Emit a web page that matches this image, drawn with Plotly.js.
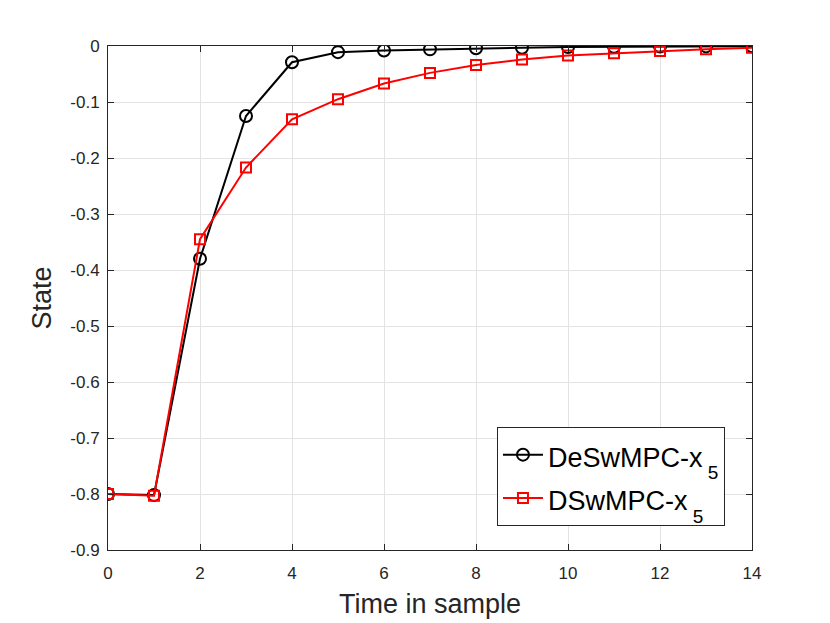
<!DOCTYPE html>
<html>
<head>
<meta charset="utf-8">
<script src="https://cdn.plot.ly/plotly-3.0.1.min.js"></script>
<style>html,body{margin:0;padding:0;background:#fff;}#chart{width:830px;height:623px;}</style>
</head>
<body>
<div id="chart"></div>
<script>
var timeSteps = [0,1,2,3,4,5,6,7,8,9,10,11,12,13,14];
var deswmpcX5 = [-0.800,-0.802,-0.380,-0.125,-0.029,-0.011,-0.008,-0.006,-0.004,-0.003,-0.002,-0.0015,-0.001,-0.0007,-0.0005];
var dswmpcX5  = [-0.800,-0.803,-0.345,-0.217,-0.131,-0.095,-0.067,-0.048,-0.034,-0.024,-0.017,-0.013,-0.009,-0.006,-0.003];
var seriesBase = ['DeSwMPC-x', 'DSwMPC-x'];
var seriesSub = ['5', '5'];
var xTickVals = [0,2,4,6,8,10,12,14];
var yTickVals = [0,-0.1,-0.2,-0.3,-0.4,-0.5,-0.6,-0.7,-0.8,-0.9];
var yTickText = ['0','-0.1','-0.2','-0.3','-0.4','-0.5','-0.6','-0.7','-0.8','-0.9'];

function legendLabel(base, sub) {
  return '<span style="font-size:27px">' + base + '</span>' +
         '<span style="font-size:60px"><sub><span style="font-size:19px"> ' + sub + '</span></sub></span>';
}

var font = 'Liberation Sans, Arial, Helvetica, sans-serif';
var traces = [
  {x: timeSteps, y: deswmpcX5, name: legendLabel(seriesBase[0], seriesSub[0]), type: 'scatter', mode: 'lines+markers',
   line: {color: '#000000', width: 2},
   marker: {symbol: 'circle-open', size: 12, color: '#000000', line: {width: 2}}},
  {x: timeSteps, y: dswmpcX5, name: legendLabel(seriesBase[1], seriesSub[1]), type: 'scatter', mode: 'lines+markers',
   line: {color: '#ff0000', width: 2},
   marker: {symbol: 'square-open', size: 10, color: '#ff0000', line: {width: 2}}}
];
var axisCommon = {
  showline: true, linecolor: '#262626', linewidth: 1, mirror: 'ticks',
  ticks: 'inside', ticklen: 6, tickcolor: '#262626',
  showgrid: true, gridcolor: '#e3e3e3', gridwidth: 1, zeroline: false,
  tickfont: {family: font, size: 17, color: '#262626'}
};
var layout = {
  width: 830, height: 623,
  margin: {l: 108, r: 78, t: 46, b: 73},
  paper_bgcolor: '#ffffff', plot_bgcolor: '#ffffff',
  font: {family: font, color: '#262626'},
  showlegend: true,
  xaxis: Object.assign({}, axisCommon, {
    range: [0, 14], tickmode: 'array', tickvals: xTickVals, ticklabelstandoff: 8,
    title: {text: 'Time in sample', font: {family: font, size: 27, color: '#262626'}, standoff: 11}
  }),
  yaxis: Object.assign({}, axisCommon, {
    range: [-0.9, 0], tickmode: 'array', tickvals: yTickVals, ticktext: yTickText, ticklabelstandoff: 4,
    title: {text: 'State', font: {family: font, size: 27, color: '#262626'}, standoff: 10}
  }),
  legend: {
    x: 0.604, y: 0.244, xanchor: 'left', yanchor: 'top',
    bgcolor: '#ffffff', bordercolor: '#262626', borderwidth: 1,
    font: {family: font, size: 31, color: '#000000'},
    itemwidth: 40
  }
};
Plotly.newPlot('chart', traces, layout, {displayModeBar: false, staticPlot: true});
</script>
</body>
</html>
